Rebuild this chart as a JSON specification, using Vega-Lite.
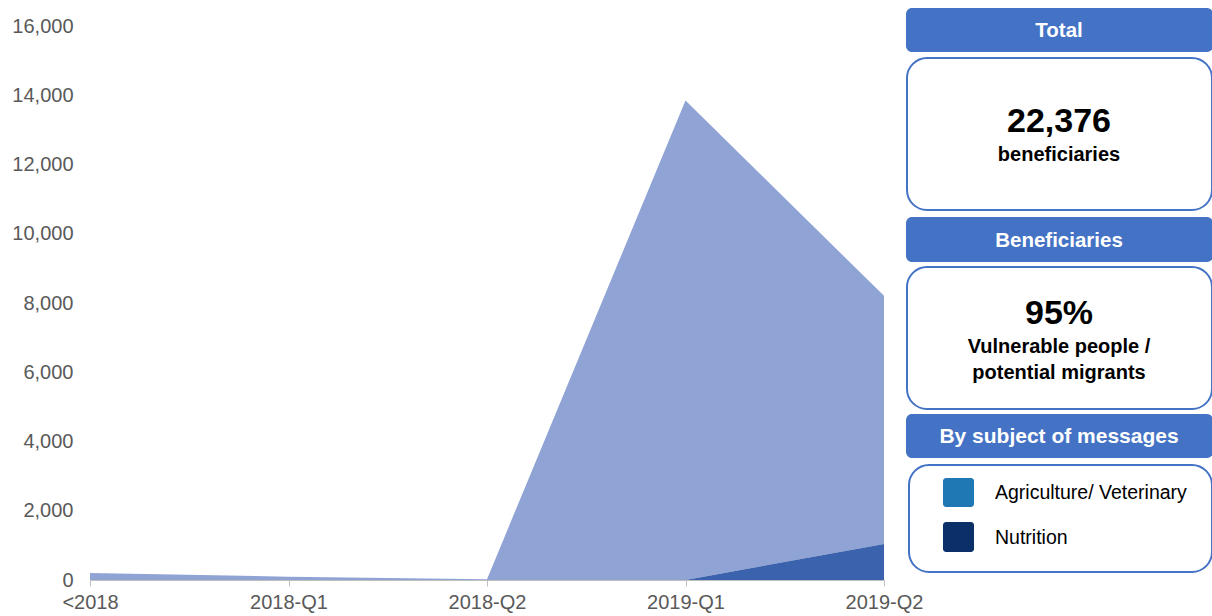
{
  "$schema": "https://vega.github.io/schema/vega-lite/v6.json",
  "padding": {"left": 11, "top": 0, "right": 0, "bottom": 0},
  "bounds": "flush",
  "spacing": 22,
  "config": {"view": {"stroke": null}, "font": "Liberation Sans"},
  "datasets": {
    "beneficiaries": [
      {"quarter": "<2018", "subject": "Agriculture/ Veterinary", "beneficiaries": 200},
      {"quarter": "2018-Q1", "subject": "Agriculture/ Veterinary", "beneficiaries": 95},
      {"quarter": "2018-Q2", "subject": "Agriculture/ Veterinary", "beneficiaries": 25},
      {"quarter": "2019-Q1", "subject": "Agriculture/ Veterinary", "beneficiaries": 13850},
      {"quarter": "2019-Q2", "subject": "Agriculture/ Veterinary", "beneficiaries": 7166},
      {"quarter": "<2018", "subject": "Nutrition", "beneficiaries": 0},
      {"quarter": "2018-Q1", "subject": "Nutrition", "beneficiaries": 0},
      {"quarter": "2018-Q2", "subject": "Nutrition", "beneficiaries": 0},
      {"quarter": "2019-Q1", "subject": "Nutrition", "beneficiaries": 0},
      {"quarter": "2019-Q2", "subject": "Nutrition", "beneficiaries": 1040}
    ],
    "summary": [
      {"total": "22,376", "share": "95%"}
    ]
  },
  "hconcat": [
    {
      "width": 794,
      "height": 580,
      "data": {"name": "beneficiaries"},
      "mark": {"type": "area", "interpolate": "linear"},
      "encoding": {
        "x": {
          "field": "quarter",
          "type": "ordinal",
          "sort": ["<2018", "2018-Q1", "2018-Q2", "2019-Q1", "2019-Q2"],
          "scale": {"type": "point", "padding": 0},
          "axis": {
            "title": null,
            "labelAngle": 0,
            "labelFontSize": 20,
            "labelColor": "#595959",
            "labelPadding": 6,
            "domainColor": "#bfbfbf",
            "tickColor": "#bfbfbf",
            "tickSize": 6,
            "grid": false
          }
        },
        "y": {
          "field": "beneficiaries",
          "type": "quantitative",
          "stack": "zero",
          "scale": {"domain": [0, 16751], "nice": false},
          "axis": {
            "title": null,
            "values": [0, 2000, 4000, 6000, 8000, 10000, 12000, 14000, 16000],
            "format": ",.0f",
            "grid": false,
            "domain": false,
            "ticks": false,
            "tickSize": 0,
            "labelPadding": 17,
            "labelFontSize": 20,
            "labelColor": "#595959"
          }
        },
        "color": {
          "field": "subject",
          "type": "nominal",
          "scale": {"domain": ["Agriculture/ Veterinary", "Nutrition"], "range": ["#8fa3d4", "#3b63ad"]},
          "legend": null
        },
        "order": {"field": "subject", "sort": "descending"}
      }
    },
    {
      "width": 307,
      "height": 616,
      "data": {"name": "summary"},
      "layer": [
        {
          "mark": {"type": "rect", "fill": "#4472c4", "cornerRadius": 6},
          "encoding": {
            "x": {"datum": 0, "type": "quantitative", "scale": {"domain": [0, 307], "nice": false, "zero": false}, "axis": null},
            "x2": {"datum": 307},
            "y": {"datum": 8, "type": "quantitative", "scale": {"domain": [0, 616], "reverse": true, "nice": false, "zero": false}, "axis": null},
            "y2": {"datum": 52}
          }
        },
        {
          "mark": {"type": "rect", "fill": "white", "stroke": "#4472c4", "strokeWidth": 2, "cornerRadius": 20},
          "encoding": {"x": {"datum": 1}, "x2": {"datum": 306}, "y": {"datum": 58}, "y2": {"datum": 210}}
        },
        {
          "mark": {"type": "rect", "fill": "#4472c4", "cornerRadius": 6},
          "encoding": {"x": {"datum": 0}, "x2": {"datum": 307}, "y": {"datum": 217}, "y2": {"datum": 262}}
        },
        {
          "mark": {"type": "rect", "fill": "white", "stroke": "#4472c4", "strokeWidth": 2, "cornerRadius": 20},
          "encoding": {"x": {"datum": 1}, "x2": {"datum": 306}, "y": {"datum": 267}, "y2": {"datum": 409}}
        },
        {
          "mark": {"type": "rect", "fill": "#4472c4", "cornerRadius": 6},
          "encoding": {"x": {"datum": 0}, "x2": {"datum": 307}, "y": {"datum": 414}, "y2": {"datum": 458}}
        },
        {
          "mark": {"type": "rect", "fill": "white", "stroke": "#4472c4", "strokeWidth": 2, "cornerRadius": 20},
          "encoding": {"x": {"datum": 3}, "x2": {"datum": 306}, "y": {"datum": 465}, "y2": {"datum": 572}}
        },
        {
          "mark": {"type": "rect", "fill": "#1f77b4", "cornerRadius": 3},
          "encoding": {"x": {"datum": 37}, "x2": {"datum": 68}, "y": {"datum": 478}, "y2": {"datum": 507}}
        },
        {
          "mark": {"type": "rect", "fill": "#0b3069", "cornerRadius": 3},
          "encoding": {"x": {"datum": 37}, "x2": {"datum": 68}, "y": {"datum": 522}, "y2": {"datum": 552}}
        },
        {
          "mark": {"type": "text", "text": "Total", "fontSize": 20.5, "fontWeight": "bold", "color": "white", "align": "center", "baseline": "middle"},
          "encoding": {"x": {"datum": 153}, "y": {"datum": 31}}
        },
        {
          "mark": {"type": "text", "fontSize": 34, "fontWeight": "bold", "color": "black", "align": "center", "baseline": "middle"},
          "encoding": {"x": {"datum": 153}, "y": {"datum": 122}, "text": {"field": "total"}}
        },
        {
          "mark": {"type": "text", "text": "beneficiaries", "fontSize": 20, "fontWeight": "bold", "color": "black", "align": "center", "baseline": "middle"},
          "encoding": {"x": {"datum": 153}, "y": {"datum": 155}}
        },
        {
          "mark": {"type": "text", "text": "Beneficiaries", "fontSize": 20.5, "fontWeight": "bold", "color": "white", "align": "center", "baseline": "middle"},
          "encoding": {"x": {"datum": 153}, "y": {"datum": 241}}
        },
        {
          "mark": {"type": "text", "fontSize": 34, "fontWeight": "bold", "color": "black", "align": "center", "baseline": "middle"},
          "encoding": {"x": {"datum": 153}, "y": {"datum": 314}, "text": {"field": "share"}}
        },
        {
          "mark": {"type": "text", "text": "Vulnerable people /", "fontSize": 20, "fontWeight": "bold", "color": "black", "align": "center", "baseline": "middle"},
          "encoding": {"x": {"datum": 153}, "y": {"datum": 347}}
        },
        {
          "mark": {"type": "text", "text": "potential migrants", "fontSize": 20, "fontWeight": "bold", "color": "black", "align": "center", "baseline": "middle"},
          "encoding": {"x": {"datum": 153}, "y": {"datum": 373}}
        },
        {
          "mark": {"type": "text", "text": "By subject of messages", "fontSize": 21, "fontWeight": "bold", "color": "white", "align": "center", "baseline": "middle"},
          "encoding": {"x": {"datum": 153}, "y": {"datum": 437}}
        },
        {
          "mark": {"type": "text", "text": "Agriculture/ Veterinary", "fontSize": 19.5, "color": "black", "align": "left", "baseline": "middle"},
          "encoding": {"x": {"datum": 89}, "y": {"datum": 493}}
        },
        {
          "mark": {"type": "text", "text": "Nutrition", "fontSize": 19.5, "color": "black", "align": "left", "baseline": "middle"},
          "encoding": {"x": {"datum": 89}, "y": {"datum": 538}}
        }
      ]
    }
  ]
}
